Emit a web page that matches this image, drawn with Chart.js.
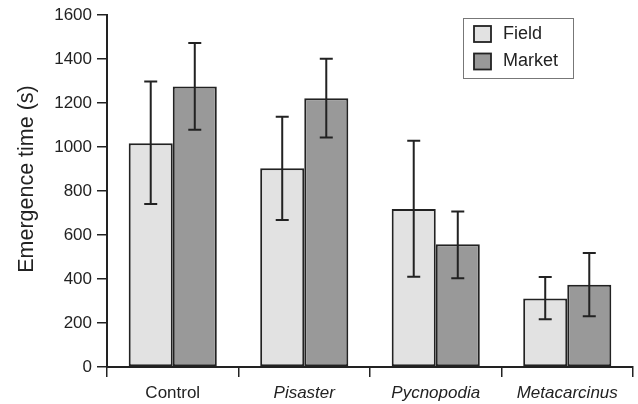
<!DOCTYPE html>
<html>
<head>
<meta charset="utf-8">
<script src="https://cdn.jsdelivr.net/npm/chart.js@4.4.1/dist/chart.umd.min.js"></script>
<style>
  html, body { margin: 0; padding: 0; background: #ffffff; }
  #wrap { width: 638px; height: 404px; }
</style>
</head>
<body>
<div id="wrap"><canvas id="c" width="638" height="404"></canvas></div>
<script>
// ---- data ----
const categories = ['Control', 'Pisaster', 'Pycnopodia', 'Metacarcinus'];
const seriesNames = ['Field', 'Market'];
const fieldMean = [1018, 904, 719, 312];
const fieldLow  = [741, 669, 410, 217];
const fieldHigh = [1298, 1138, 1029, 409];
const marketMean = [1276, 1222, 558, 374];
const marketLow  = [1079, 1044, 404, 231];
const marketHigh = [1474, 1402, 707, 518];
const yMin = 0, yMax = 1600, yStep = 200;
const yTitle = 'Emergence time (s)';

const INK = '#222222';
const FONT = '"Liberation Sans", Arial, Helvetica, sans-serif';

const errorBars = {
  id: 'errorBars',
  afterDatasetsDraw(chart) {
    const ctx = chart.ctx;
    const ys = chart.scales.y;
    chart.data.datasets.forEach((ds, di) => {
      const meta = chart.getDatasetMeta(di);
      meta.data.forEach((bar, i) => {
        const x = bar.x;
        const yTop = ys.getPixelForValue(ds.errHigh[i]);
        const yBot = ys.getPixelForValue(ds.errLow[i]);
        const half = 6.5;
        ctx.save();
        ctx.strokeStyle = INK;
        ctx.lineWidth = 2;
        ctx.beginPath();
        ctx.moveTo(x, yTop); ctx.lineTo(x, yBot);
        ctx.moveTo(x - half, yTop); ctx.lineTo(x + half, yTop);
        ctx.moveTo(x - half, yBot); ctx.lineTo(x + half, yBot);
        ctx.stroke();
        ctx.restore();
      });
    });
  }
};

const yAxisTitle = {
  id: 'yAxisTitle',
  afterDraw(chart) {
    const ctx = chart.ctx;
    const ys = chart.scales.y;
    // title centred slightly above the middle of the axis, as in the reference
    const cy = ys.getPixelForValue(855);
    ctx.save();
    ctx.translate(27, cy);
    ctx.rotate(-Math.PI / 2);
    ctx.fillStyle = INK;
    ctx.font = '21.5px ' + FONT;
    ctx.textAlign = 'center';
    ctx.textBaseline = 'middle';
    ctx.fillText(yTitle, 0, 0);
    ctx.restore();
  }
};

const boxLegend = {
  id: 'boxLegend',
  afterDraw(chart) {
    const ctx = chart.ctx;
    const bx = 463.5, by = 18.5, bw = 110, bh = 60;
    ctx.save();
    ctx.fillStyle = '#ffffff';
    ctx.fillRect(bx, by, bw, bh);
    ctx.strokeStyle = '#777777';
    ctx.lineWidth = 1;
    ctx.strokeRect(bx, by, bw, bh);
    chart.data.datasets.forEach((ds, i) => {
      const sy = 26 + i * 27.5;
      ctx.fillStyle = ds.backgroundColor;
      ctx.fillRect(474, sy, 17, 16);
      ctx.strokeStyle = INK;
      ctx.lineWidth = 1.8;
      ctx.strokeRect(474, sy, 17, 16);
      ctx.fillStyle = INK;
      ctx.font = '18px ' + FONT;
      ctx.textBaseline = 'middle';
      ctx.textAlign = 'left';
      ctx.fillText(ds.label, 503, sy + 8);
    });
    ctx.restore();
  }
};

new Chart(document.getElementById('c'), {
  type: 'bar',
  data: {
    labels: categories,
    datasets: [
      { label: seriesNames[0], data: fieldMean, errLow: fieldLow, errHigh: fieldHigh,
        backgroundColor: '#e2e2e2', borderColor: INK, borderWidth: 2, borderSkipped: false },
      { label: seriesNames[1], data: marketMean, errLow: marketLow, errHigh: marketHigh,
        backgroundColor: '#999999', borderColor: INK, borderWidth: 2, borderSkipped: false }
    ]
  },
  options: {
    responsive: false,
    animation: false,
    devicePixelRatio: 1,
    layout: { padding: { left: 0, right: 5, top: 7, bottom: 0 } },
    datasets: { bar: { categoryPercentage: 0.67, barPercentage: 1.0 } },
    plugins: { legend: { display: false }, tooltip: { enabled: false } },
    scales: {
      x: {
        offset: true,
        grid: { offset: true, drawOnChartArea: false, drawTicks: true, tickLength: 10, color: INK, lineWidth: 1.5 },
        border: { display: true, color: INK, width: 2 },
        ticks: {
          color: INK,
          padding: 6,
          font: (c) => ({ family: FONT, size: 17, style: c.index > 0 ? 'italic' : 'normal' })
        },
        afterFit: (s) => { s.height = 37; }
      },
      y: {
        min: yMin, max: yMax,
        grid: { drawOnChartArea: false, drawTicks: true, tickLength: 10, color: INK, lineWidth: 1.5 },
        border: { display: true, color: INK, width: 2 },
        ticks: { stepSize: yStep, color: INK, padding: 5, font: { family: FONT, size: 17 },
                 callback: (v) => String(v) },
        title: { display: false },
        afterFit: (s) => { s.width = 107; }
      }
    }
  },
  plugins: [errorBars, yAxisTitle, boxLegend]
});
</script>
</body>
</html>
